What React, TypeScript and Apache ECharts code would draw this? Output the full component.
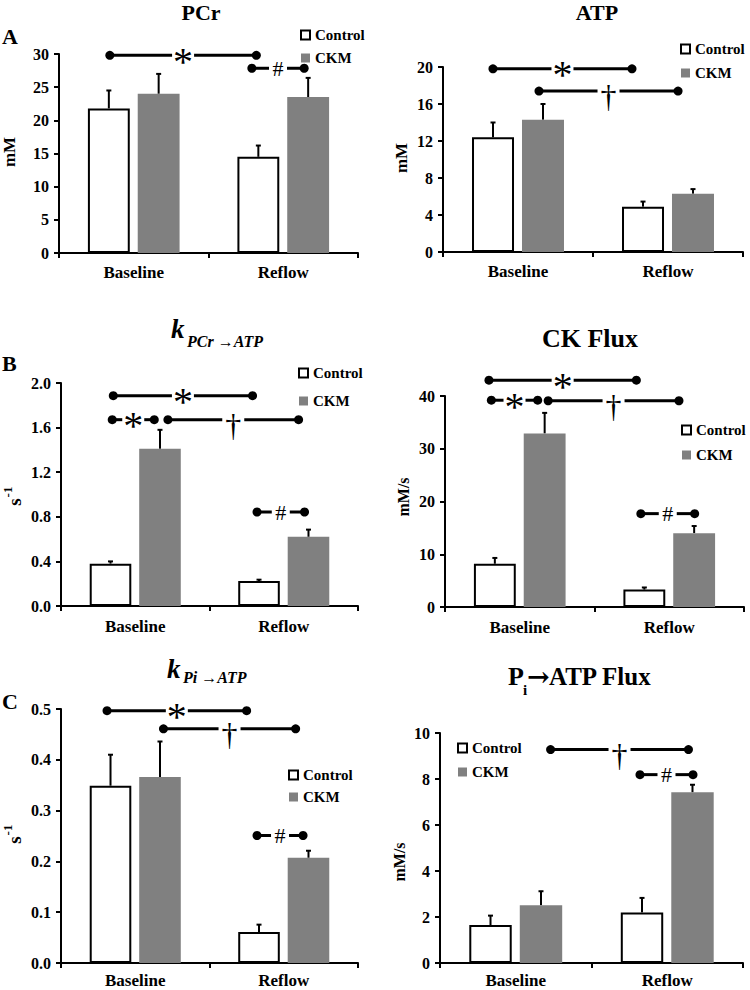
import React, { useEffect, useRef } from 'react';
import * as echarts from 'echarts';

const FONT = "'Liberation Serif', 'Times New Roman', serif";

const categories = ['Baseline', 'Reflow'];
const seriesNames = ['Control', 'CKM'];

// Panel A – PCr (mM)
const pcrControl = [21.8, 14.5];
const pcrControlSem = [2.7, 1.7];
const pcrCkm = [24.0, 23.5];
const pcrCkmSem = [3.0, 2.9];
const pcrAxis = [0, 30, 5];
// Panel A – ATP (mM)
const atpControl = [12.4, 4.9];
const atpControlSem = [1.6, 0.55];
const atpCkm = [14.3, 6.3];
const atpCkmSem = [1.7, 0.5];
const atpAxis = [0, 20, 4];
// Panel B – k PCr->ATP (s^-1)
const kpcrControl = [0.38, 0.224];
const kpcrControlSem = [0.02, 0.012];
const kpcrCkm = [1.41, 0.62];
const kpcrCkmSem = [0.17, 0.065];
const kpcrAxis = [0, 2, 0.4];
// Panel B – CK Flux (mM/s)
const ckControl = [8.2, 3.3];
const ckControlSem = [1.1, 0.4];
const ckCkm = [32.9, 14.0];
const ckCkmSem = [3.9, 1.35];
const ckAxis = [0, 40, 10];
// Panel C – k Pi->ATP (s^-1)
const kpiControl = [0.349, 0.061];
const kpiControlSem = [0.061, 0.0145];
const kpiCkm = [0.366, 0.207];
const kpiCkmSem = [0.07, 0.014];
const kpiAxis = [0, 0.5, 0.1];
// Panel C – Pi->ATP Flux (mM/s)
const piControl = [1.65, 2.2];
const piControlSem = [0.41, 0.63];
const piCkm = [2.51, 7.42];
const piCkmSem = [0.61, 0.33];
const piAxis = [0, 10, 2];

// significance brackets: [symbol, x from, x to (category units, 0 = Baseline, 1 = Reflow), y value]
type Sig = [string, number, number, number];
const pcrSig: Sig[] = [['*', -0.16, 0.82, 29.8], ['#', 0.79, 1.14, 27.85]];
const atpSig: Sig[] = [['*', -0.167, 0.76, 19.8], ['†', 0.14, 1.067, 17.4]];
const kpcrSig: Sig[] = [['*', -0.148, 0.79, 1.886], ['*', -0.155, 0.128, 1.671], ['†', 0.22, 1.1, 1.671], ['#', 0.82, 1.14, 0.843]];
const ckSig: Sig[] = [['*', -0.206, 0.78, 43.0], ['*', -0.19, 0.12, 39.2], ['†', 0.19, 1.065, 39.1], ['#', 0.81, 1.17, 17.7]];
const kpiSig: Sig[] = [['*', -0.19, 0.75, 0.4967], ['†', 0.19, 1.08, 0.461], ['#', 0.82, 1.13, 0.251]];
const piSig: Sig[] = [['†', 0.23, 1.14, 9.28], ['#', 0.82, 1.17, 8.19]];

const panels = [
  { control: pcrControl, controlSem: pcrControlSem, ckm: pcrCkm, ckmSem: pcrCkmSem, axis: pcrAxis, sig: pcrSig, dec: 0 },
  { control: atpControl, controlSem: atpControlSem, ckm: atpCkm, ckmSem: atpCkmSem, axis: atpAxis, sig: atpSig, dec: 0 },
  { control: kpcrControl, controlSem: kpcrControlSem, ckm: kpcrCkm, ckmSem: kpcrCkmSem, axis: kpcrAxis, sig: kpcrSig, dec: 1 },
  { control: ckControl, controlSem: ckControlSem, ckm: ckCkm, ckmSem: ckCkmSem, axis: ckAxis, sig: ckSig, dec: 0 },
  { control: kpiControl, controlSem: kpiControlSem, ckm: kpiCkm, ckmSem: kpiCkmSem, axis: kpiAxis, sig: kpiSig, dec: 1 },
  { control: piControl, controlSem: piControlSem, ckm: piCkm, ckmSem: piCkmSem, axis: piAxis, sig: piSig, dec: 0 },
];

const layouts = [
  { grid: { left: 59, top: 54, width: 299, height: 199 }, legend: { left: 300, top: 27.5, itemGap: 8 }, xMargin: 11 },
  { grid: { left: 443, top: 67, width: 300, height: 185 }, legend: { left: 680, top: 41.5, itemGap: 9 }, xMargin: 11 },
  { grid: { left: 61, top: 383, width: 297, height: 223 }, legend: { left: 298, top: 365.5, itemGap: 13 }, xMargin: 12 },
  { grid: { left: 445, top: 396, width: 299, height: 211 }, legend: { left: 681, top: 422.5, itemGap: 10 }, xMargin: 12 },
  { grid: { left: 61, top: 709, width: 297, height: 254 }, legend: { left: 288, top: 767.5, itemGap: 7 }, xMargin: 9 },
  { grid: { left: 440, top: 733, width: 303, height: 230 }, legend: { left: 457, top: 740.5, itemGap: 9 }, xMargin: 9 },
];

const BAR_FRAC = 0.28;
const GAP_FRAC = 0.19;

function barOffset(band: number) {
  const bw = band * BAR_FRAC;
  return (bw + bw * GAP_FRAC) / 2;
}

function buildOption() {
  const grid: any[] = [];
  const xAxis: any[] = [];
  const yAxis: any[] = [];
  const legend: any[] = [];
  const series: any[] = [];

  panels.forEach((p, i) => {
    const L = layouts[i];
    grid.push({ ...L.grid, containLabel: false });
    xAxis.push({
      type: 'category', gridIndex: i, data: categories,
      axisLine: { show: true, lineStyle: { color: '#000', width: 2 } },
      axisTick: { show: true, length: 5, lineStyle: { color: '#000', width: 2 } },
      axisLabel: { color: '#000', fontFamily: FONT, fontWeight: 'bold', fontSize: 17, margin: L.xMargin },
    });
    yAxis.push({
      type: 'value', gridIndex: i, min: p.axis[0], max: p.axis[1], interval: p.axis[2],
      axisLine: { show: true, lineStyle: { color: '#000', width: 2 } },
      axisTick: { show: true, length: 5, lineStyle: { color: '#000', width: 2 } },
      splitLine: { show: false },
      axisLabel: {
        color: '#000', fontFamily: FONT, fontWeight: 'bold', fontSize: 16, margin: 10,
        formatter: (v: number) => v.toFixed(p.dec),
      },
    });
    legend.push({
      orient: 'vertical', left: L.legend.left, top: L.legend.top, itemGap: L.legend.itemGap,
      itemWidth: 9, itemHeight: 9, padding: 0, selectedMode: false,
      textStyle: { color: '#000', fontFamily: FONT, fontWeight: 'bold', fontSize: 15 },
      data: [{ name: 'Control', icon: 'rect' }, { name: 'CKM', icon: 'rect' }],
    });
    series.push({
      name: seriesNames[0], type: 'bar', xAxisIndex: i, yAxisIndex: i, data: p.control,
      barWidth: BAR_FRAC * 100 + '%', barGap: GAP_FRAC * 100 + '%',
      itemStyle: { color: '#ffffff', borderColor: '#000', borderWidth: 2 }, z: 2,
    });
    series.push({
      name: seriesNames[1], type: 'bar', xAxisIndex: i, yAxisIndex: i, data: p.ckm,
      barWidth: BAR_FRAC * 100 + '%', barGap: GAP_FRAC * 100 + '%',
      itemStyle: { color: '#808080' }, z: 2,
    });
    const errData: number[][] = [];
    categories.forEach((_, c) => {
      errData.push([c, p.control[c], p.controlSem[c], 0]);
      errData.push([c, p.ckm[c], p.ckmSem[c], 1]);
    });
    series.push({
      type: 'custom', xAxisIndex: i, yAxisIndex: i, z: 1, silent: true, data: errData,
      renderItem: (params: any, api: any) => {
        const cat = api.value(0);
        const mean = api.value(1);
        const sem = api.value(2);
        const s = api.value(3);
        const base = api.coord([cat, mean]);
        const top = api.coord([cat, mean + sem]);
        const band = api.size([1, 0])[0];
        const off = barOffset(band);
        const x = base[0] + (s === 0 ? -off : off);
        return {
          type: 'group',
          children: [
            { type: 'line', shape: { x1: x, y1: base[1], x2: x, y2: top[1] }, style: { stroke: '#000', lineWidth: 2 } },
            { type: 'line', shape: { x1: x - 2.5, y1: top[1], x2: x + 2.5, y2: top[1] }, style: { stroke: '#000', lineWidth: 2 } },
          ],
        };
      },
    });
    const sig = p.sig;
    series.push({
      type: 'custom', xAxisIndex: i, yAxisIndex: i, z: 6, silent: true, clip: false,
      data: sig.map((s) => [0, s[3]]),
      renderItem: (params: any, api: any) => {
        const [sym, a, b, yv] = sig[params.dataIndex];
        const c0 = api.coord([0, yv]);
        const c1 = api.coord([1, yv]);
        const step = c1[0] - c0[0];
        const x1 = c0[0] + a * step;
        const x2 = c0[0] + b * step;
        const y = c0[1];
        const mid = (x1 + x2) / 2;
        const half = sym === '#' ? 9 : 11;
        let txt: any;
        if (sym === '#') {
          txt = { type: 'text', x: mid, y: y, style: { text: '#', fill: '#000', font: `22px ${FONT}`, align: 'center', verticalAlign: 'middle' } };
        } else if (sym === '*') {
          txt = { type: 'text', x: mid, y: y + 6, style: { text: '*', fill: '#000', font: `40px ${FONT}`, align: 'center', verticalAlign: 'middle' } };
        } else {
          txt = { type: 'text', x: mid, y: y + 5, style: { text: '†', fill: '#000', font: `32px ${FONT}`, align: 'center', verticalAlign: 'middle' } };
        }
        return {
          type: 'group',
          children: [
            { type: 'line', shape: { x1, y1: y, x2: mid - half, y2: y }, style: { stroke: '#000', lineWidth: 3 } },
            { type: 'line', shape: { x1: mid + half, y1: y, x2, y2: y }, style: { stroke: '#000', lineWidth: 3 } },
            { type: 'circle', shape: { cx: x1, cy: y, r: 4.5 }, style: { fill: '#000' } },
            { type: 'circle', shape: { cx: x2, cy: y, r: 4.5 }, style: { fill: '#000' } },
            txt,
          ],
        };
      },
    });
  });

  const bold = (size: number, extra: string = '', family: string = FONT) => `${extra}bold ${size}px ${family}`;
  const txt = (text: string, x: number, y: number, font: string, align: string = 'center') => ({
    type: 'text', x, y, style: { text, font, fill: '#000', align, verticalAlign: 'middle' },
  });
  const rotated = (x: number, y: number, children: any[]) => ({ type: 'group', x, y, rotation: Math.PI / 2, children });

  const graphic: any[] = [
    // panel letters
    txt('A', 2, 36, bold(22), 'left'),
    txt('B', 2, 363, bold(22), 'left'),
    txt('C', 2, 701, bold(22), 'left'),
    // titles
    txt('PCr', 201, 12, bold(22)),
    txt('ATP', 597, 12, bold(22)),
    txt('k', 171, 329, bold(27, 'italic '), 'left'),
    txt('PCr →ATP', 187, 341.6, bold(16, 'italic '), 'left'),
    txt('CK Flux', 590, 338, bold(26)),
    txt('k', 167, 669, bold(27, 'italic '), 'left'),
    txt('Pi →ATP', 183, 677.6, bold(16, 'italic '), 'left'),
    txt('P', 508, 676, bold(26), 'left'),
    txt('i', 523, 689.6, bold(15), 'left'),
    txt('→', 527, 676, bold(27, '', "'DejaVu Serif', serif"), 'left'),
    txt('ATP Flux', 549, 676, bold(25), 'left'),
    // axis names
    rotated(9, 152, [txt('mM', 0, 0, bold(17))]),
    rotated(401, 158, [txt('mM', 0, 0, bold(17))]),
    rotated(14, 498, [txt('s', -4, 0, bold(19)), txt('-1', 6, -7, bold(13))]),
    rotated(403, 497, [txt('mM/s', 0, 0, bold(16))]),
    rotated(14, 836, [txt('s', -4, 0, bold(19)), txt('-1', 6, -7, bold(13))]),
    rotated(399, 862, [txt('mM/s', 0, 0, bold(16))]),
  ];

  return { animation: false, backgroundColor: '#ffffff', grid, xAxis, yAxis, legend, series, graphic };
}

export default function App() {
  const ref = useRef<HTMLDivElement>(null);
  useEffect(() => {
    if (!ref.current) return;
    const chart = echarts.init(ref.current, undefined, { renderer: 'svg' });
    chart.setOption(buildOption() as any);
    return () => chart.dispose();
  }, []);
  return <div ref={ref} style={{ position: 'absolute', left: 0, top: 0, width: 750, height: 990 }} />;
}
